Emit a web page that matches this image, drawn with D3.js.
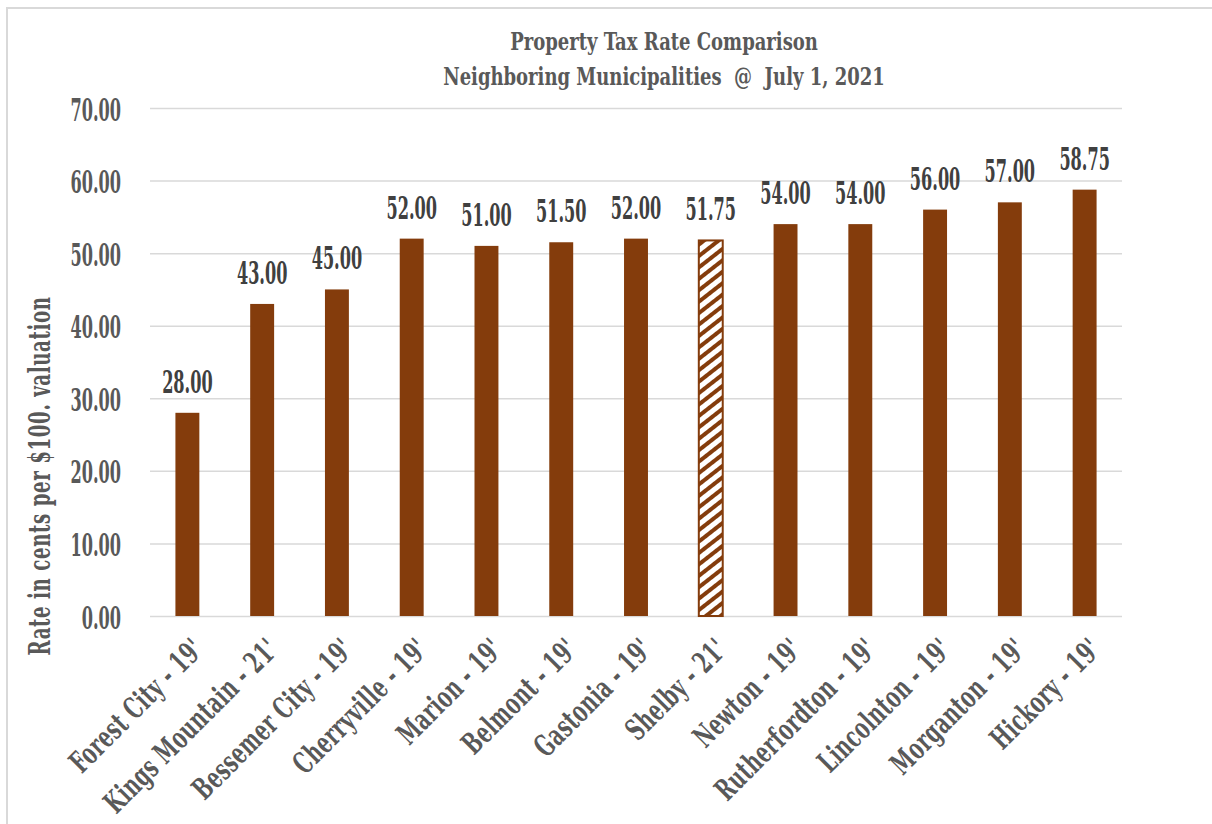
<!DOCTYPE html>
<html>
<head>
<meta charset="utf-8">
<script src="https://cdn.jsdelivr.net/npm/d3@7"></script>
<style>
  body { margin: 0; background: #fff; }
  text { font-family: "DejaVu Serif Condensed", "DejaVu Serif", serif; font-weight: bold; white-space: pre; }
</style>
</head>
<body>
<svg id="chart" width="1212" height="824"></svg>
<script>
// Municipal property tax rates (cents per $100 valuation)
const categories = [
  "Forest City - 19'", "Kings Mountain - 21'", "Bessemer City - 19'", "Cherryville - 19'",
  "Marion - 19'", "Belmont - 19'", "Gastonia - 19'", "Shelby - 21'", "Newton - 19'",
  "Rutherfordton - 19'", "Lincolnton - 19'", "Morganton - 19'", "Hickory - 19'"
];
const rates = [28.00, 43.00, 45.00, 52.00, 51.00, 51.50, 52.00, 51.75, 54.00, 54.00, 56.00, 57.00, 58.75];
const highlighted = ["Shelby - 21'"];
const yTicks = [0, 10, 20, 30, 40, 50, 60, 70];
const titleLines = ["Property Tax Rate Comparison", "Neighboring Municipalities  @  July 1, 2021"];
const yAxisTitle = "Rate in cents per $100. valuation";

const W = 1212, H = 824;
const plot = { left: 150, right: 1122, top: 108, bottom: 616 };
const BROWN = "#843C0C";
const SQ_NUM = 0.56;   // horizontal squeeze for figures
const SQ_TXT = 0.7;    // horizontal squeeze for words

const svg = d3.select("#chart");
const fmt = d3.format(".2f");

// chart frame
svg.append("rect")
  .attr("x", 7).attr("y", 8).attr("width", W + 20).attr("height", H + 20)
  .attr("fill", "#fff").attr("stroke", "#D9D9D9").attr("stroke-width", 2);

// stripe pattern for the highlighted bar
const defs = svg.append("defs");
const pat = defs.append("pattern")
  .attr("id", "stripes").attr("patternUnits", "userSpaceOnUse")
  .attr("width", 10).attr("height", 9)
  .attr("patternTransform", "rotate(-38)");
pat.append("rect").attr("width", 10).attr("height", 9).attr("fill", "#fff");
pat.append("rect").attr("width", 10).attr("height", 4).attr("fill", BROWN);

const x = d3.scaleBand()
  .domain(categories)
  .range([plot.left, plot.right])
  .paddingInner(0.68)
  .paddingOuter(0.34);

const y = d3.scaleLinear()
  .domain([0, 70])
  .range([plot.bottom, plot.top]);

// gridlines + y tick labels
const yAxis = d3.axisLeft(y)
  .tickValues(yTicks)
  .tickSize(-(plot.right - plot.left))
  .tickPadding(0)
  .tickFormat(fmt);

const gy = svg.append("g")
  .attr("transform", `translate(${plot.left},0)`)
  .call(yAxis);
gy.select(".domain").remove();
gy.selectAll(".tick line")
  .attr("stroke", "#D9D9D9").attr("stroke-width", 1.5);
gy.selectAll(".tick text")
  .attr("x", null).attr("dy", null)
  .attr("transform", `translate(-29,12) scale(${SQ_NUM},1)`)
  .attr("text-anchor", "end")
  .attr("fill", "#595959")
  .attr("font-size", 32);

// bars
const data = categories.map((c, i) => ({ name: c, value: rates[i] }));

svg.append("g").selectAll("rect")
  .data(data)
  .join("rect")
  .attr("x", d => x(d.name))
  .attr("y", d => y(d.value))
  .attr("width", x.bandwidth())
  .attr("height", d => y(0) - y(d.value))
  .attr("fill", d => highlighted.includes(d.name) ? "url(#stripes)" : BROWN)
  .attr("stroke", d => highlighted.includes(d.name) ? BROWN : "none")
  .attr("stroke-width", 2);

// value labels
svg.append("g").selectAll("text")
  .data(data)
  .join("text")
  .attr("transform", d => `translate(${x(d.name) + x.bandwidth() / 2},${y(d.value) - 20}) scale(${SQ_NUM},1)`)
  .attr("text-anchor", "middle")
  .attr("fill", "#404040")
  .attr("font-size", 32)
  .text(d => fmt(d.value));

// category labels, rotated
const gx = svg.append("g")
  .attr("transform", `translate(0,${plot.bottom})`)
  .call(d3.axisBottom(x).tickSize(0).tickPadding(0));
gx.select(".domain").remove();
gx.selectAll(".tick text")
  .attr("y", null).attr("dy", null)
  .attr("transform", `translate(18,35) rotate(-45) scale(${SQ_TXT},1)`)
  .attr("text-anchor", "end")
  .attr("fill", "#595959")
  .attr("font-size", 30)
  .attr("letter-spacing", 0.6);

// y axis title
svg.append("text")
  .attr("transform", `translate(50,476) rotate(-90) scale(${SQ_TXT},1)`)
  .attr("text-anchor", "middle")
  .attr("fill", "#595959")
  .attr("font-size", 29)
  .attr("letter-spacing", 0.8)
  .text(yAxisTitle);

// title
svg.append("g").selectAll("text")
  .data(titleLines)
  .join("text")
  .attr("transform", (d, i) => `translate(664,${50 + i * 35}) scale(0.8,1)`)
  .attr("text-anchor", "middle")
  .attr("fill", "#595959")
  .attr("font-size", 25)
  .text(d => d);
</script>
</body>
</html>
